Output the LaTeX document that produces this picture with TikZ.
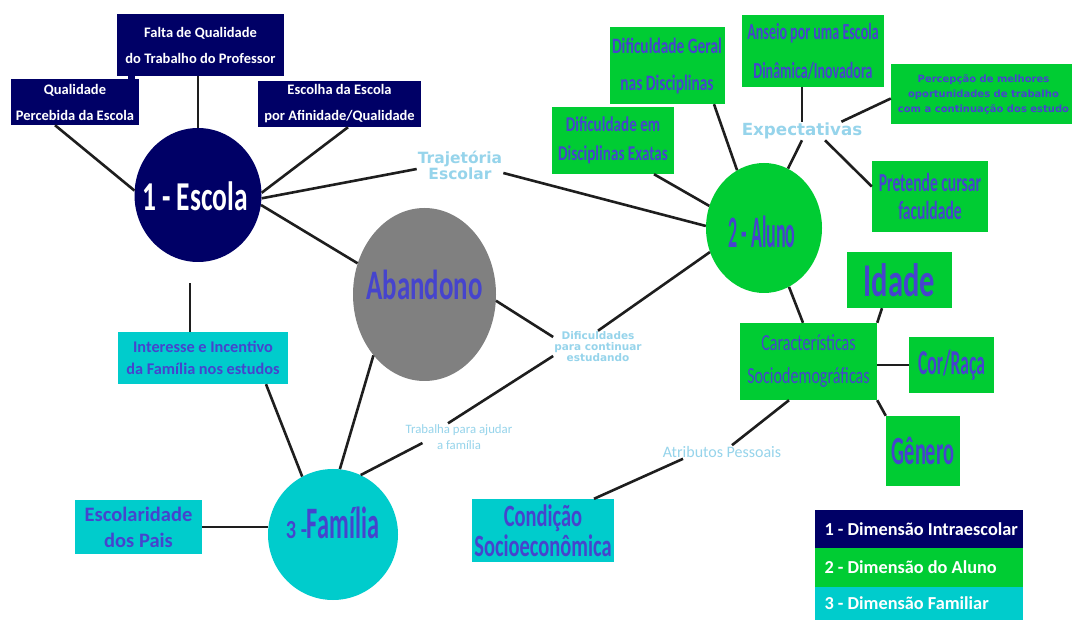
\documentclass[tikz,border=0pt]{standalone}
\usepackage{fontspec}
\usepackage{graphicx}
\setmainfont{Carlito}
\newfontfamily\verdfont{DejaVu Sans}
\usetikzlibrary{shapes.geometric}

\definecolor{navy}{RGB}{0,0,102}
\definecolor{agreen}{RGB}{0,204,51}
\definecolor{fcyan}{RGB}{0,204,204}
\definecolor{abgray}{RGB}{128,128,128}
\definecolor{txtblue}{RGB}{70,68,205}
\definecolor{tagblue}{RGB}{150,212,235}
\definecolor{linecol}{RGB}{30,30,30}

\newcommand{\narrowed}[2]{\scalebox{#1}[1]{#2}}
\newcommand{\legtext}[1]{\makebox[189pt][l]{#1}}

\tikzset{
  navybox/.style={rectangle, fill=navy, text=white, inner sep=0pt, align=center,
    font=\bfseries\fontsize{14.5pt}{26pt}\selectfont},
  greenbox/.style={rectangle, fill=agreen, text=txtblue, inner sep=0pt, align=center},
  cyanbox/.style={rectangle, fill=fcyan, text=txtblue, inner sep=0pt, align=center},
  blob/.style={ellipse, inner sep=0pt},
  tag/.style={text=tagblue, inner sep=1pt, align=center},
  link/.style={draw=linecol, line width=2.6pt},
  legendrow/.style={rectangle, text=white, inner xsep=9.5pt, inner ysep=0pt,
    minimum height=38.5pt, font=\bfseries\fontsize{18.3pt}{20pt}\selectfont},
}

\begin{document}
\begin{tikzpicture}[x=1pt,y=-1pt]
\useasboundingbox (0,0) rectangle (1072,620);
\fill[white] (0,0) rectangle (1072,620);

% 1 - escola
\node[blob, fill=navy, minimum width=127pt, minimum height=134pt] (esc) at (198,195) {};
\node[text=white, font=\bfseries\fontsize{41pt}{41pt}\selectfont] (esclbl) at (195,196) {\narrowed{0.67}{1 - Escola}};
\node[navybox, minimum width=167pt, minimum height=62pt] (falta) at (200.5,45)
  {Falta de Qualidade\\do Trabalho do Professor};
\node[navybox, minimum width=128pt, minimum height=46pt] (qual) at (75,102)
  {Qualidade\\Percebida da Escola};
\node[navybox, minimum width=163pt, minimum height=46pt] (escolha) at (339.5,104)
  {Escolha da Escola\\por Afinidade/Qualidade};
\fill[navy] (128,76) rectangle (135,80);

% abandono
\node[blob, fill=abgray, minimum width=143pt, minimum height=173pt] (ab) at (424.5,294.5) {};
\node[text=txtblue, font=\bfseries\fontsize{42pt}{42pt}\selectfont] (ablbl) at (424.5,285) {\narrowed{0.64}{Abandono}};

% 2 - aluno
\node[blob, fill=agreen, minimum width=116pt, minimum height=130pt] (aluno) at (764,228) {};
\node[text=txtblue, font=\bfseries\fontsize{45pt}{45pt}\selectfont] (alunolbl) at (762,232) {\narrowed{0.40}{2 - Aluno}};
\node[greenbox, minimum width=115pt, minimum height=77pt, font=\bfseries\fontsize{22pt}{37pt}\selectfont] (dg) at (667,65.5)
  {\narrowed{0.7}{Dificuldade Geral}\\\narrowed{0.7}{nas Disciplinas}};
\node[greenbox, minimum width=122pt, minimum height=67pt, font=\bfseries\fontsize{21pt}{29pt}\selectfont] (de) at (613,140.5)
  {\narrowed{0.72}{Dificuldade em}\\\narrowed{0.72}{Disciplinas Exatas}};
\node[greenbox, minimum width=142pt, minimum height=72pt, font=\bfseries\fontsize{23pt}{39pt}\selectfont] (ans) at (813,51)
  {\narrowed{0.61}{Anseio por uma Escola}\\\narrowed{0.61}{Dinâmica/Inovadora}};
\node[greenbox, minimum width=185pt, minimum height=60pt, font=\verdfont\bfseries\fontsize{10pt}{15pt}\selectfont] (perc) at (983.5,94.5)
  {Percepção de melhores\\oportunidades de trabalho\\com a continuação dos estudo};
\node[greenbox, minimum width=116pt, minimum height=71pt, font=\bfseries\fontsize{26pt}{28pt}\selectfont] (pret) at (930,196.5)
  {\narrowed{0.6}{Pretende cursar}\\\narrowed{0.6}{faculdade}};
\node[tag, font=\verdfont\bfseries\fontsize{16.7pt}{18pt}\selectfont] (exp) at (802,131) {Expectativas};

\node[greenbox, minimum width=137pt, minimum height=77pt, font=\fontsize{23pt}{33pt}\selectfont] (car) at (808.5,361.5)
  {\narrowed{0.7}{Características}\\\narrowed{0.7}{Sociodemográficas}};
\node[greenbox, minimum width=105pt, minimum height=56pt, font=\bfseries\fontsize{47pt}{47pt}\selectfont] (idade) at (899.5,280)
  {\narrowed{0.65}{Idade}};
\node[greenbox, minimum width=85pt, minimum height=56pt, font=\bfseries\fontsize{35pt}{35pt}\selectfont] (cor) at (951.5,365)
  {\narrowed{0.5}{Cor/Raça}};
\node[greenbox, minimum width=74pt, minimum height=70pt, font=\bfseries\fontsize{40pt}{40pt}\selectfont] (gen) at (923,451)
  {\narrowed{0.51}{Gênero}};
\node[tag, font=\fontsize{16pt}{18pt}\selectfont] (atrib) at (722,452) {Atributos Pessoais};
\node[cyanbox, minimum width=142pt, minimum height=63pt, font=\bfseries\fontsize{31pt}{30pt}\selectfont] (cond) at (543,530.5)
  {\narrowed{0.66}{Condição}\\\narrowed{0.66}{Socioeconômica}};

% 3 - familia
\node[blob, fill=fcyan, minimum width=130pt, minimum height=131pt] (fam) at (333,534.5) {};
\node[text=txtblue, font=\bfseries, inner sep=0pt] (famlbl) at (332.5,523)
  {\fontsize{26pt}{26pt}\selectfont\narrowed{0.78}{3 -}\fontsize{45pt}{45pt}\selectfont\narrowed{0.54}{Família}};
\node[cyanbox, minimum width=170pt, minimum height=52pt, font=\bfseries\fontsize{16.3pt}{22pt}\selectfont] (int) at (203,358)
  {Interesse e Incentivo\\da Família nos estudos};
\node[cyanbox, minimum width=127pt, minimum height=54pt, font=\bfseries\fontsize{20.5pt}{26pt}\selectfont] (escol) at (138.5,527)
  {Escolaridade\\dos Pais};

% rotulos das ligacoes
\node[tag, font=\verdfont\bfseries\fontsize{15.5pt}{16pt}\selectfont] (traj) at (460,165) {Trajetória\\Escolar};
\node[tag, font=\verdfont\bfseries\fontsize{10.5pt}{11pt}\selectfont] (dif) at (598,347) {Dificuldades\\para continuar\\estudando};
\node[tag, font=\fontsize{12.8pt}{16pt}\selectfont] (trab) at (459,437) {Trabalha para ajudar\\a família};

% ligacoes
\draw[link] ([xshift=-20pt]qual.south) -- (esc.176);
\draw[link] (esc.north |- falta.south) -- (esc.north);
\draw[link] ([xshift=8.5pt]escolha.south) -- (esc.2);
\draw[link] (esc.-3) -- ([yshift=-4pt]traj.west);
\draw[link] ([yshift=-8pt]traj.east) -- (aluno.178);
\draw[link] (esc.-9) -- (ab.155);
\draw[link] ([xshift=-8pt,yshift=-21pt]esc.south) -- ([xshift=-8pt]esc.south |- int.north);
\draw[link] ([xshift=63pt]int.south) -- (fam.118);
\draw[link] (ab.230) -- (fam.84);
\draw[link] (escol.east) -- (escol.east -| fam.west);
\draw[link] (ab.-5) -- ([yshift=10pt]dif.west);
\draw[link] (dif.north) -- (aluno.204);
\draw[link] ([yshift=-9pt]dif.west) -- ([xshift=-11pt]trab.north);
\draw[link] ([xshift=18pt,yshift=-6pt]trab.west) -- (fam.65);
\draw[link] ([xshift=47pt]dg.south) -- (aluno.115);
\draw[link] ([xshift=41pt]de.south) -- (aluno.158);
\draw[link] (ans.south -| exp.north) -- (exp.north);
\draw[link] ([yshift=-4pt]perc.west) -- ([xshift=-22pt]exp.north east);
\draw[link] (exp.south) -- (aluno.68);
\draw[link] ([xshift=23pt]exp.south) -- ([yshift=10pt]pret.west);
\draw[link] (aluno.-67) -- ([xshift=-5.5pt]car.north);
\draw[link] (car.north east) -- ([xshift=-17.5pt]idade.south);
\draw[link] (cor.west -| car.east) -- (cor.west);
\draw[link] (car.south east) -- (gen.north west);
\draw[link] ([xshift=-19.5pt]car.south) -- ([xshift=10pt]atrib.north);
\draw[link] ([xshift=-39pt]atrib.south) -- ([xshift=51pt]cond.north);

% legenda
\node[legendrow, fill=navy] (leg1) at (919,529) {\legtext{1 - Dimensão Intraescolar}};
\node[legendrow, fill=agreen] (leg2) at (919,567.5) {\legtext{2 - Dimensão do Aluno}};
\node[legendrow, fill=fcyan, minimum height=33pt] (leg3) at (919,603.5) {\legtext{3 - Dimensão Familiar}};
\end{tikzpicture}
\end{document}
